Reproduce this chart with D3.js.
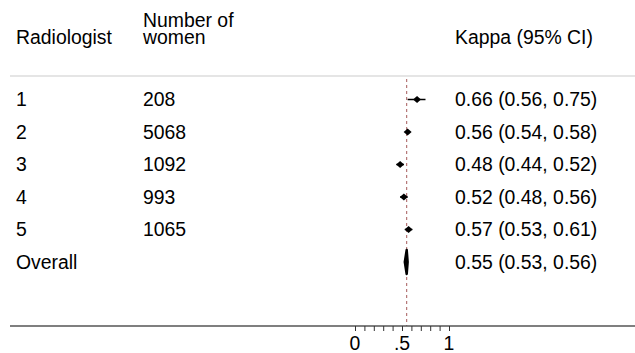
<!DOCTYPE html>
<html>
    <head>
        <style>
            body { margin: 0; background: white; }
            text { font-family: "Liberation Sans", Arial, sans-serif; font-size: 19.4px; fill: black; }
            .ligne_haut { stroke: #dcdcdc; stroke-width: 1.5; }
            .axe_ligne { stroke: #555; stroke-width: 1.5; }
            .ref { stroke: #a65a5a; stroke-width: 1; stroke-dasharray: 3 3; }
        </style>
    </head>
    <body>
        <div id="plateau"></div>
        <script src="https://cdn.jsdelivr.net/npm/d3@7"></script>
        <script>

//////////////////// donnees ////////////////////
let radiologues = ['1', '2', '3', '4', '5', 'Overall'];
let nb_femmes = [208, 5068, 1092, 993, 1065, null];
let kappa = [0.66, 0.56, 0.48, 0.52, 0.57, 0.55];
let ic_bas = [0.56, 0.54, 0.44, 0.48, 0.53, 0.53];
let ic_haut = [0.75, 0.58, 0.52, 0.56, 0.61, 0.56];
let ticks_mineurs = [0, 0.1, 0.2, 0.3, 0.4, 0.5, 0.6, 0.7, 0.8, 0.9, 1];
let ticks_labels = [0, 0.5, 1];
let kappa_global = 0.55;

//////////////////// position ////////////////////
let W = 635;
let H = 353;
let COL_RADIO = 16;
let COL_FEMMES = 143;
let COL_KAPPA = 455;
let Y_AXE = 326;
let Y_HAUT = 76;

let x = d3.scaleLinear().domain([0, 1]).range([355, 449]);
let y = d3.scalePoint().domain(radiologues).range([99.5, 262]);
let fmt = d3.format('.2f');

let svg = d3.select('#plateau').append('svg')
    .attr('width', W)
    .attr('height', H);

// entetes
svg.append('text').attr('x', COL_RADIO).attr('y', 44).text('Radiologist');
svg.append('text').attr('x', COL_FEMMES).attr('y', 27).text('Number of');
svg.append('text').attr('x', COL_FEMMES).attr('y', 44).text('women');
svg.append('text').attr('x', COL_KAPPA).attr('y', 44).text('Kappa (95% CI)');

svg.append('line')
    .classed('ligne_haut', true)
    .attr('x1', 10).attr('x2', W)
    .attr('y1', Y_HAUT).attr('y2', Y_HAUT);

// ligne de reference
svg.append('line')
    .classed('ref', true)
    .attr('x1', x(kappa_global)).attr('x2', x(kappa_global))
    .attr('y1', Y_HAUT + 3).attr('y2', Y_AXE);

// lignes
let lignes = svg.selectAll('g.ligne')
    .data(radiologues)
    .join('g')
    .classed('ligne', true)
    .attr('transform', d => `translate(0, ${y(d)})`);

lignes.append('text')
    .attr('x', COL_RADIO).attr('dy', '0.36em')
    .text(d => d);

lignes.append('text')
    .attr('x', COL_FEMMES).attr('dy', '0.36em')
    .text((d, i) => nb_femmes[i] == null ? '' : nb_femmes[i]);

lignes.append('text')
    .attr('x', COL_KAPPA).attr('dy', '0.36em')
    .text((d, i) => `${fmt(kappa[i])} (${fmt(ic_bas[i])}, ${fmt(ic_haut[i])})`);

lignes.each(function(d, i) {
    let g = d3.select(this);
    if (d === 'Overall') {
        g.append('path')
            .attr('d', `M ${x(ic_bas[i])} 0 L ${x(kappa[i])} -12 L ${x(ic_haut[i])} 0 L ${x(kappa[i])} 12 Z`)
            .attr('fill', 'black')
            .attr('stroke', 'black')
            .attr('stroke-width', 2.5)
            .attr('stroke-linejoin', 'round');
    } else {
        g.append('line')
            .attr('x1', x(ic_bas[i])).attr('x2', x(ic_haut[i]))
            .attr('y1', 0).attr('y2', 0)
            .attr('stroke', 'black')
            .attr('stroke-width', 1.5);
        let cx = x(kappa[i]);
        g.append('path')
            .attr('d', `M ${cx - 4} 0 L ${cx} -3.5 L ${cx + 4} 0 L ${cx} 3.5 Z`)
            .attr('fill', 'black');
    }
});

// axe
svg.append('line')
    .classed('axe_ligne', true)
    .attr('x1', 10).attr('x2', W)
    .attr('y1', Y_AXE).attr('y2', Y_AXE);

let axe = svg.append('g')
    .attr('transform', `translate(0, ${Y_AXE})`)
    .call(d3.axisBottom(x).tickValues(ticks_mineurs).tickSize(5).tickFormat(''));
axe.select('.domain').remove();
axe.selectAll('.tick line').attr('stroke', '#333');

svg.selectAll('text.tick_label')
    .data(ticks_labels)
    .join('text')
    .classed('tick_label', true)
    .attr('x', d => x(d))
    .attr('y', 350)
    .attr('text-anchor', 'middle')
    .text(d => d === 0.5 ? '.5' : d);

        </script>
    </body>
</html>
